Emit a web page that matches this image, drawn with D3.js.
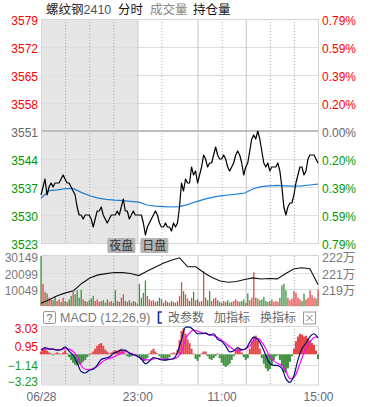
<!DOCTYPE html>
<html><head><meta charset="utf-8">
<script src="https://cdn.jsdelivr.net/npm/d3@7"></script>
<style>
body{margin:0;background:#fff}
svg{display:block}
text{font-family:"Liberation Sans",Arial,"Noto Sans CJK SC",sans-serif}
</style>
</head><body><svg id="c" width="370" height="407"></svg>
<script>
// ---------- data ----------
const titleName = "螺纹钢";
const contract = "2410";
const tabs = ["分时", "成交量", "持仓量"];
const prevSettle = 3551;
const priceTicks = [3523, 3530, 3537, 3544, 3551, 3558, 3565, 3572, 3579];
const pctLabels = ["0.79%", "0.59%", "0.39%", "0.20%", "0.00%", "0.20%", "0.39%", "0.59%", "0.79%"];
const totalMinutes = 345;
const timeTicks = [0, 120, 225, 345];
const timeLabels = ["06/28", "23:00", "11:00", "15:00"];
const dottedMinutes = [30, 60, 90, 150, 225, 285, 315];
const solidMinutes = [120, 195, 255];
const sessionLabels = ["夜盘", "日盘"];
const nightEnd = 120;

const price = [
3535,3537,3539,3535,3537,3538,3537,3538,3538,3538,
3539,3540,3539,3538,3538,3537,3536,3535,3532,3530,
3530,3529,3530,3530,3530,3529,3527,3529,3531,3531,
3532,3530,3529,3528,3529,3530,3530,3530,3531,3530,
3532,3534,3531,3531,3529,3530,3531,3530,3530,3530,
3530,3528,3525,3527,3528,3529,3530,3531,3530,3528,
3527,3527,3528,3527,3527,3526,3528,3527,3528,3532,
3538,3536,3539,3538,3538,3542,3540,3541,3538,3540,
3542,3545,3544,3542,3543,3543,3545,3547,3545,3544,
3544,3545,3544,3542,3541,3542,3543,3545,3546,3545,
3543,3540,3542,3543,3546,3549,3550,3549,3551,3549,
3546,3543,3542,3543,3541,3542,3542,3542,3543,3541,
3537,3532,3530,3532,3533,3533,3535,3538,3540,3542,
3542,3540,3541,3544,3545,3545,3545,3544,3543];

const avgPrice = [
3534.2,3536.1,3536.3,3536.6,3536.6,3535.6,3534.8,3534.2,3533.9,3533.7,
3533.6,3533.4,3533.2,3532.5,3532.2,3532.1,3532.0,3532.1,3532.6,3533.3,
3533.9,3534.4,3534.8,3535.0,3535.2,3535.5,3536.5,3537.1,3537.3,3537.4,
3537.3,3537.2,3537.3,3537.5,3537.7];

const volume = [
30149,13400,8500,7500,5000,4000,3500,6000,3000,4000,
2500,5000,3000,2500,4000,6000,8500,7000,9500,5000,
9800,4000,3000,2500,3500,4500,6000,3000,4000,2500,
3000,3500,2000,4000,2500,3000,2000,9500,3000,2500,
5000,7000,3000,2500,3500,2000,3000,2500,1500,13400,
5000,8000,15400,6000,4000,3000,3500,2500,3000,5000,
4000,2000,3500,2500,2000,3000,2500,2000,3000,6000,
14400,9000,7000,4500,3000,5000,8500,3500,4000,2500,
3000,21000,5000,3500,9000,3000,4500,5000,3500,2500,
2000,3000,2500,3500,2000,2500,3000,4000,3000,2500,
3000,4000,2000,7500,3500,5000,20300,5000,4500,3500,
4000,5500,3000,2500,3000,4000,2500,3000,2500,5000,
12400,13400,9500,5000,3500,4500,9000,8000,5000,4000,
3000,7500,4000,5000,9500,6500,5000,4500,10000];

const volumeDir = (
"grrgrrggrr" + "grgrggrggg" + "grgrgggrrr" + "rgggrrggrg" + "rrgrgrrgrg" +
"gggrrrrrgg" + "grrgrgrgrr" + "rgrrgrgrgr" + "rrgggrrrgg" + "rrgggrrrrg" +
"ggrgrrrgrg" + "gggrgrrrrg" + "gggrrrrrrr" + "ggrrrrrgr").split("");

const volTicks = [10049, 20099, 30149];

const openInterest = [
2181400,2184700,2188300,2190800,2192700,2199300,2204100,2207000,2208100,2209200,
2209000,2208300,2206400,2210300,2213900,2217400,2220200,2222400,2214300,2214300,
2209000,2204600,2201500,2200400,2201100,2202800,2204300,2203300,2203700,2203400,
2208100,2212300,2213400,2212500,2198400];
const oiTicks = [2194000, 2209000, 2224000];
const oiLabels = ["219万", "221万", "222万"];

const dif = [
0.44,0.73,0.55,0.55,0.44,0.5,0.8,0.35,-0.1,-0.9,
-1.85,-2.0,-1.7,-1.6,-1.15,-0.55,-0.4,-0.3,0.08,0.26,
0.45,0.45,0.1,-0.05,-0.2,-0.5,-1.0,-0.75,-0.35,-0.45,
-0.6,-0.62,-0.55,-0.45,0.2,1.6,2.9,2.9,2.6,2.2,
2.2,2.3,2.05,2.2,1.6,1.4,0.9,0.26,0.35,0.7,
0.5,0.6,1.3,1.85,1.6,0.9,-0.1,-1.0,-1.18,-1.2,
-1.5,-2.6,-3.0,-2.3,-0.6,0.6,1.2,1.9,2.2,1.75];

const dea = [
0.5,0.55,0.6,0.55,0.5,0.5,0.6,0.55,0.3,-0.2,
-1.2,-1.6,-1.65,-1.5,-1.3,-0.9,-0.6,-0.45,-0.3,-0.1,
0.1,0.3,0.2,0.0,-0.2,-0.45,-0.6,-0.6,-0.5,-0.45,
-0.5,-0.55,-0.55,-0.5,-0.3,0.3,1.6,2.3,2.6,2.5,
2.3,2.2,2.1,2.0,1.8,1.5,1.2,0.8,0.5,0.4,
0.45,0.6,0.9,1.5,1.7,1.3,0.6,-0.2,-0.7,-1.0,
-1.2,-1.8,-2.6,-2.5,-1.6,-0.4,0.6,1.3,1.8,1.9];

const macdHist = [
0.3,0.6,0.7,0.4,0.2,0.1,-0.1,0.1,0.2,0.1,-0.05,0.2,0.4,0.1,
-0.3,-0.6,-0.9,-1.1,-1.2,-1.1,-1.0,-0.8,-0.6,-0.3,-0.1,
0.1,0.3,0.6,0.9,1.1,1.2,0.9,0.5,0.3,0.1,
0.2,0.3,0.45,0.4,0.5,0.6,0.4,0.1,-0.2,-0.3,-0.2,-0.1,0.05,
-0.1,-0.3,-0.6,-0.8,-0.7,-0.4,0.1,0.4,0.6,0.3,
0.1,-0.2,-0.4,-0.6,-0.7,-0.5,-0.3,0.1,0.2,0.1,
0.5,1.5,2.5,2.8,2.2,1.6,1.2,0.6,0.1,-0.5,
-0.7,-0.3,0.1,0.3,0.3,-0.2,-0.5,-0.6,-0.4,-0.2,
0.1,-0.4,-0.9,-1.2,-1.35,-1.2,-1.0,-0.6,-0.2,0.4,
0.8,0.6,0.2,-0.3,-0.6,-0.4,0.6,1.4,1.9,2.0,
1.5,0.6,-0.4,-1.0,-1.5,-1.8,-1.6,-1.2,-0.6,-0.2,
-0.1,-0.6,-1.3,-1.9,-2.0,-1.5,-0.8,-0.2,0.6,1.4,
1.9,2.2,2.1,1.9,2.0,1.7,1.5,1.2,1.0,0.4,
-0.5];
const macdTicks = [-3.23, -1.14, 0.95, 3.03];
const macdTitle = "MACD (12,26,9)";
const macdButtons = ["改参数", "加指标", "换指标"];

// ---------- layout ----------
const L = 41, R = 318;
const main = {top: 19, bottom: 243};
const vol = {top: 256, bottom: 306};
const mac = {top: 326, bottom: 384.5};
const RED = "#ff0000", GREEN = "#009a00", GREY = "#666";
const BAR_RED = "#e84646", BAR_GREEN = "#3d933d";

const svg = d3.select("#c");
const x = d3.scaleLinear().domain([0, totalMinutes]).range([L, R]);
const posX = (arr, i) => x(i * totalMinutes / (arr.length - 1));

const yP = d3.scaleLinear().domain([priceTicks[0], priceTicks[priceTicks.length - 1]]).range([main.bottom, main.top]);
const yV = d3.scaleLinear().domain([0, volTicks[2]]).range([vol.bottom, vol.top]);
const yOI = d3.scaleLinear().domain([oiTicks[0] - (oiTicks[1] - oiTicks[0]), oiTicks[2]]).range([vol.bottom, vol.top]);
const yM = d3.scaleLinear().domain([macdTicks[0], macdTicks[3]]).range([mac.bottom, mac.top]);

// panel backgrounds (night shade)
[[main.top, main.bottom], [vol.top - 1, vol.bottom], [mac.top, mac.bottom]].forEach(([t, b]) => {
  svg.append("rect").attr("x", L).attr("y", t).attr("width", x(nightEnd) - L).attr("height", b - t).attr("fill", "#e6e6e6");
});

function vgrid(t, b) {
  dottedMinutes.forEach(m => svg.append("line").attr("x1", x(m) + 0.5).attr("x2", x(m) + 0.5).attr("y1", t).attr("y2", b)
    .attr("stroke", "#a8a8a8").attr("stroke-dasharray", "1,2"));
  solidMinutes.forEach(m => svg.append("line").attr("x1", x(m) + 0.5).attr("x2", x(m) + 0.5).attr("y1", t).attr("y2", b)
    .attr("stroke", "#c4c4c4").attr("stroke-width", 1));
}

// ---------- main panel ----------
priceTicks.forEach(p => {
  if (p === prevSettle) return;
  svg.append("line").attr("x1", L).attr("x2", R).attr("y1", Math.round(yP(p)) + 0.5).attr("y2", Math.round(yP(p)) + 0.5)
    .attr("stroke", "#dedede");
});
vgrid(main.top, main.bottom);
svg.append("line").attr("x1", L).attr("x2", R).attr("y1", yP(prevSettle)).attr("y2", yP(prevSettle))
  .attr("stroke", "#bdbdbd").attr("stroke-width", 2);
svg.append("rect").attr("x", L + 0.5).attr("y", main.top + 0.5).attr("width", R - L).attr("height", main.bottom - main.top)
  .attr("fill", "none").attr("stroke", "#d6d6d6");

svg.append("path").datum(avgPrice)
  .attr("d", d3.line().x((d, i) => posX(avgPrice, i)).y(d => yP(d)))
  .attr("fill", "none").attr("stroke", "#1f7fd8").attr("stroke-width", 1.2);
svg.append("path").datum(price)
  .attr("d", d3.line().x((d, i) => posX(price, i)).y(d => yP(d)))
  .attr("fill", "none").attr("stroke", "#000").attr("stroke-width", 1.2).attr("stroke-linejoin", "round");

const colorFor = p => p > prevSettle ? RED : (p < prevSettle ? GREEN : GREY);

const axL = svg.append("g").attr("transform", `translate(${L},0)`)
  .call(d3.axisLeft(yP).tickValues(priceTicks).tickSize(0).tickPadding(3).tickFormat(d3.format("d")));
axL.select(".domain").remove();
axL.selectAll("text").attr("font-size", 12).attr("fill", d => colorFor(d)).attr("dy", "0.45em");

const axR = svg.append("g").attr("transform", `translate(${R},0)`)
  .call(d3.axisRight(yP).tickValues(priceTicks).tickSize(0).tickPadding(4).tickFormat((d, i) => pctLabels[i]));
axR.select(".domain").remove();
axR.selectAll("text").attr("font-size", 12).attr("fill", d => colorFor(d)).attr("dy", "0.45em");

// session tags
const tagW = 28, tagH = 15, tagY = 238;
[[x(nightEnd) - 2 - tagW, sessionLabels[0]], [x(nightEnd) + 3, sessionLabels[1]]].forEach(([tx, s]) => {
  svg.append("rect").attr("x", tx).attr("y", tagY).attr("width", tagW).attr("height", tagH).attr("rx", 1.5).attr("fill", "#b4b4b4");
  svg.append("text").attr("x", tx + tagW / 2).attr("y", tagY + 12).attr("text-anchor", "middle")
    .attr("font-size", 12).attr("fill", "#333").text(s);
});

// header
const hdr = svg.append("text").attr("x", 46).attr("y", 14).attr("font-size", 12.5);
hdr.append("tspan").attr("fill", "#222").text(titleName);
hdr.append("tspan").attr("fill", "#4d5566").text(contract);
const tabX = [118, 150, 193];
const tabC = ["#111", "#888", "#111"];
tabs.forEach((t, i) => svg.append("text").attr("x", tabX[i]).attr("y", 14).attr("font-size", 12.5).attr("fill", tabC[i]).text(t));

// ---------- volume panel ----------
volTicks.slice(0, 2).forEach(v => svg.append("line").attr("x1", L).attr("x2", R)
  .attr("y1", Math.round(yV(v)) + 0.5).attr("y2", Math.round(yV(v)) + 0.5).attr("stroke", "#dedede"));
vgrid(vol.top, vol.bottom);
svg.append("rect").attr("x", L + 0.5).attr("y", vol.top - 0.5).attr("width", R - L).attr("height", vol.bottom - vol.top + 0.5)
  .attr("fill", "none").attr("stroke", "#d6d6d6");

svg.append("g").selectAll("rect").data(volume).join("rect")
  .attr("x", (d, i) => posX(volume, i) - 0.6)
  .attr("width", 1.3)
  .attr("y", d => yV(d))
  .attr("height", d => yV(0) - yV(d))
  .attr("fill", (d, i) => volumeDir[i] === "r" ? BAR_RED : BAR_GREEN);

svg.append("path").datum(openInterest)
  .attr("d", d3.line().x((d, i) => posX(openInterest, i)).y(d => yOI(d)))
  .attr("fill", "none").attr("stroke", "#111").attr("stroke-width", 1.1);

const avL = svg.append("g").attr("transform", `translate(${L},0)`)
  .call(d3.axisLeft(yV).tickValues(volTicks).tickSize(0).tickPadding(3).tickFormat(d3.format("d")));
avL.select(".domain").remove();
avL.selectAll("text").attr("font-size", 12).attr("fill", "#7a7a7a").attr("dy", "0.45em");

const avR = svg.append("g").attr("transform", `translate(${R},0)`)
  .call(d3.axisRight(yOI).tickValues(oiTicks).tickSize(0).tickPadding(4).tickFormat((d, i) => oiLabels[i]));
avR.select(".domain").remove();
avR.selectAll("text").attr("font-size", 12.5).attr("fill", "#7a7a7a").attr("dy", "0.45em");

// ---------- MACD header ----------
const hy = 317.5;
svg.append("rect").attr("x", 43.5).attr("y", hy - 6).attr("width", 12).attr("height", 12).attr("rx", 1.5)
  .attr("fill", "#fff").attr("stroke", "#999");
svg.append("text").attr("x", 49.5).attr("y", hy + 4).attr("text-anchor", "middle").attr("font-size", 10.5).attr("fill", "#666").text("?");
svg.append("text").attr("x", 60).attr("y", hy + 4.5).attr("font-size", 12.5).attr("fill", "#777").text(macdTitle);
svg.append("path").attr("d", `M162,${hy - 5.5} L158.5,${hy - 5.5} L158.5,${hy + 5.5} L162,${hy + 5.5}`)
  .attr("fill", "none").attr("stroke", "#1a2fa8").attr("stroke-width", 1.6);
const btnX = [168, 214, 260];
macdButtons.forEach((b, i) => svg.append("text").attr("x", btnX[i]).attr("y", hy + 4.5).attr("font-size", 12).attr("fill", "#666").text(b));
svg.append("rect").attr("x", 303.5).attr("y", hy - 5.5).attr("width", 12).attr("height", 12)
  .attr("fill", "#fff").attr("stroke", "#999");
svg.append("path").attr("d", `M306.5,${hy - 2.5} L312.5,${hy + 3.5} M312.5,${hy - 2.5} L306.5,${hy + 3.5}`)
  .attr("stroke", "#777").attr("stroke-width", 1);

// ---------- MACD panel ----------
[macdTicks[1], macdTicks[2]].forEach(v => svg.append("line").attr("x1", L).attr("x2", R)
  .attr("y1", Math.round(yM(v)) + 0.5).attr("y2", Math.round(yM(v)) + 0.5).attr("stroke", "#dedede"));
vgrid(mac.top, mac.bottom);
svg.append("rect").attr("x", L + 0.5).attr("y", mac.top + 0.5).attr("width", R - L).attr("height", mac.bottom - mac.top)
  .attr("fill", "none").attr("stroke", "#d6d6d6");

svg.append("g").selectAll("rect").data(macdHist).join("rect")
  .attr("x", (d, i) => posX(macdHist, i) - 1)
  .attr("width", 2.05)
  .attr("y", d => Math.min(yM(d), yM(0)))
  .attr("height", d => Math.abs(yM(d) - yM(0)))
  .attr("fill", d => d >= 0 ? BAR_RED : BAR_GREEN);

svg.append("path").datum(dea)
  .attr("d", d3.line().curve(d3.curveMonotoneX).x((d, i) => posX(dea, i)).y(d => yM(d)))
  .attr("fill", "none").attr("stroke", "#ff00ff").attr("stroke-width", 1.2);
svg.append("path").datum(dif)
  .attr("d", d3.line().curve(d3.curveMonotoneX).x((d, i) => posX(dif, i)).y(d => yM(d)))
  .attr("fill", "none").attr("stroke", "#00107a").attr("stroke-width", 1.2);

const amL = svg.append("g").attr("transform", `translate(${L},0)`)
  .call(d3.axisLeft(yM).tickValues(macdTicks).tickSize(0).tickPadding(3).tickFormat(d3.format(".2f")));
amL.select(".domain").remove();
amL.selectAll("text").attr("font-size", 12).attr("fill", d => d > 0 ? RED : "#1a9a1a")
  .attr("dy", (d, i) => i === 0 ? "0.05em" : (i === 3 ? "0.5em" : "0.4em"));

// ---------- time axis ----------
const axT = svg.append("g").attr("transform", `translate(0,${mac.bottom})`)
  .call(d3.axisBottom(x).tickValues(timeTicks).tickSize(0).tickPadding(8).tickFormat((d, i) => timeLabels[i]));
axT.select(".domain").remove();
axT.selectAll("text").attr("font-size", 12).attr("fill", "#6a6a7a");
</script>
</body></html>
